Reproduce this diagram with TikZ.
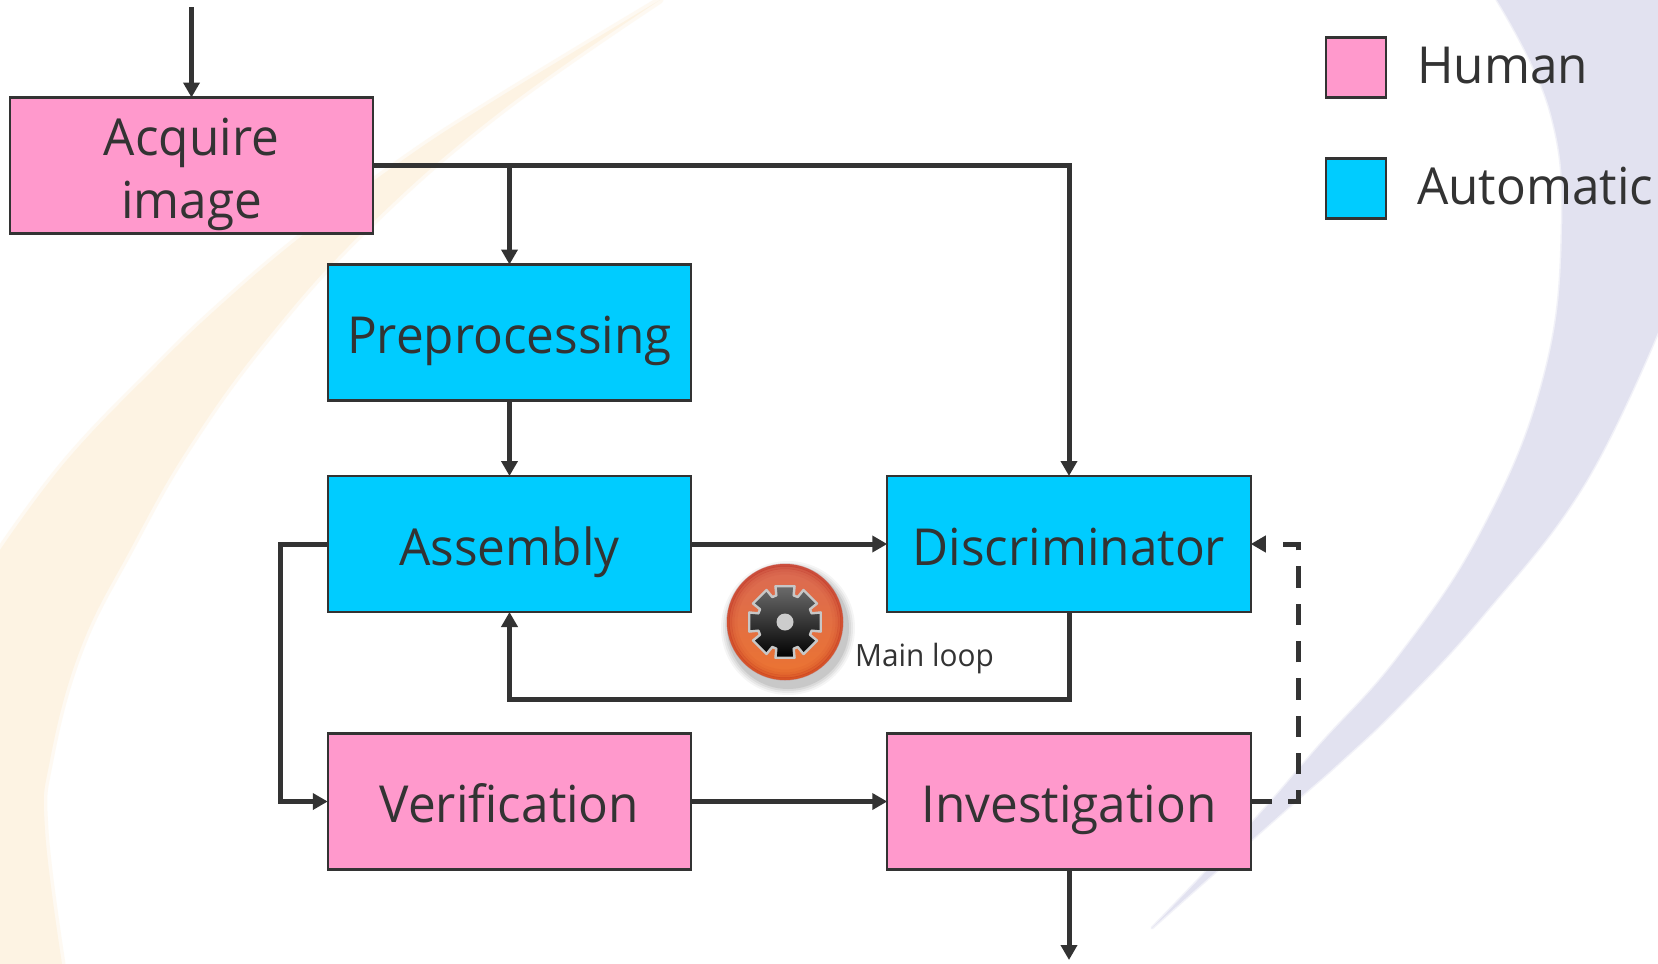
\documentclass[tikz,border=0pt]{standalone}
\usepackage{fontspec}
\setmainfont[FakeStretch=0.97]{Open Sans}
\usetikzlibrary{arrows.meta}
\definecolor{ink}{HTML}{333333}
\definecolor{pinkbox}{HTML}{FF99CC}
\definecolor{bluebox}{HTML}{00CCFF}
\definecolor{swooshorange}{HTML}{FDF3E3}
\definecolor{swooshblue}{HTML}{E2E2F0}
\definecolor{balltop}{HTML}{DA6A54}
\definecolor{ballmid}{HTML}{D4351C}
\definecolor{ballbot}{HTML}{EC7430}
\definecolor{ballrim}{HTML}{B01A14}
\tikzset{
  x=1pt,y=-1pt,
  box/.style={draw=ink,line width=2.4pt,minimum width=363.5pt,minimum height=136pt,inner sep=0pt,outer sep=0pt,
    text=ink,font=\fontsize{51pt}{63pt}\selectfont,text height=42pt,text depth=0pt,align=center},
  human/.style={box,fill=pinkbox},
  auto/.style={box,fill=bluebox},
  legendbox/.style={draw=ink,line width=2.4pt,minimum width=60pt,minimum height=60pt,inner sep=0pt,outer sep=0pt},
  legendtext/.style={anchor=base west,inner sep=0pt,text=ink,font=\fontsize{51pt}{60pt}\selectfont},
  conn/.style={draw=ink,line width=5pt},
  flow/.style={conn,-{Triangle[length=15pt,width=16pt]}},
}
\begin{document}
\begin{tikzpicture}
\useasboundingbox (0,0) rectangle (1658,964);
\fill[white] (0,0) rectangle (1658,964);
% background swooshes
\path[fill=swooshorange,draw=swooshorange,draw opacity=.45,line width=7pt,line join=round]
  plot[smooth,tension=.7] coordinates {(660,0) (495,100) (400,162) (303,235) (223,303) (156,367) (67,460) (0,550)}
  -- (-10,974) -- (62,974)
  -- plot[smooth,tension=.7] coordinates {(62,964) (45,830) (50,760) (80,650) (130,550) (190,445) (270,335) (370,225) (500,112) (660,0)}
  -- cycle;
\path[fill=swooshblue,draw=swooshblue,draw opacity=.45,line width=3pt,line join=round]
  plot[smooth,tension=.7] coordinates {(1497,0) (1550,110) (1562,234) (1543,381) (1483,529) (1400,655) (1320,745) (1250,825) (1152,928)}
  -- plot[smooth,tension=.7] coordinates {(1152,928) (1283,812) (1340,762) (1400,705) (1483,615) (1583,486) (1658,332)}
  -- (1668,332) -- (1668,-10) -- (1497,-10) -- cycle;
% boxes
\node[human] (acq) at (191.5,165.5) [text height=106pt] {Acquire\\image};
\node[auto] (pre) at (509.5,332.5) {Preprocessing};
\node[auto] (asm) at (509.5,544) {Assembly};
\node[auto] (dis) at (1069,544) {Discriminator};
\node[human] (ver) at (509.5,801.5) {Verification};
\node[human] (inv) at (1069,801.5) {Investigation};
\coordinate (start) at (191.5,7);
\coordinate (end) at (1069,960);
\coordinate (loopl) at (280,0);
\coordinate (loopb) at (0,699);
\coordinate (dashr) at (1298,0);
\coordinate (dashend) at (1283,544);
\coordinate (headbase) at (1266,544);
% connectors
\draw[flow] (start) -- (acq.north);
\draw[flow] (acq.east) -- (acq.east -| dis.north) -- (dis.north);
\draw[flow] (acq.east -| pre.north) -- (pre.north);
\draw[flow] (pre.south) -- (asm.north);
\draw[flow] (asm.east) -- (dis.west);
\draw[flow] (dis.south) -- (dis.south |- loopb) -- (asm.south |- loopb) -- (asm.south);
\draw[flow] (asm.west) -- (asm.west -| loopl) -- (ver.west -| loopl) -- (ver.west);
\draw[flow] (ver.east) -- (inv.west);
\draw[flow] (inv.south) -- (end);
\draw[conn,dash pattern=on 21.3pt off 16pt,line join=miter] (inv.east) -- (inv.east -| dashr) -- (dis.east -| dashr) -- (dashend);
\draw[flow] (headbase) -- (dis.east);
% legend
\node[legendbox,fill=pinkbox] (lh) at (1356,67.5) {};
\node[legendbox,fill=bluebox] (la) at (1356,188.5) {};
\node[legendtext] (lht) at (1417,83) {Human};
\node[legendtext] (lat) at (1417,204) {Automatic};
% icon
\begin{scope}[shift={(785,622)}]
  \foreach \s/\o in {67/0.04,65/0.05,63/0.06,61/0.08}
    \fill[black,opacity=\o] (3,6) circle (\s);
  \shade[top color=balltop,middle color=ballmid,bottom color=ballbot] (0,0) circle (58);
  \foreach \r/\w/\o in {57/3/.35,54.5/3/.22,52/3/.12,49/3/.05}
    \draw[ballrim,line width=\w pt,opacity=\o] (0,0) circle (\r);
  \path[draw=black!22,line width=2.4pt,line join=round,top color=black!58,middle color=black!92,bottom color=black]
    (-15:37)
    \foreach \a in {0,45,...,315}{
      -- ({\a-15}:37) -- ({\a+15}:37) -- ({\a+18}:28) -- ({\a+27}:28)
    } -- cycle;
  \fill[black!20] (0,0) circle (8.5);
\end{scope}
\node[anchor=base west,inner sep=0pt,text=ink,font=\fontsize{30.7pt}{36pt}\selectfont] (ml) at (855,666.5) {Main loop};
\end{tikzpicture}
\end{document}
